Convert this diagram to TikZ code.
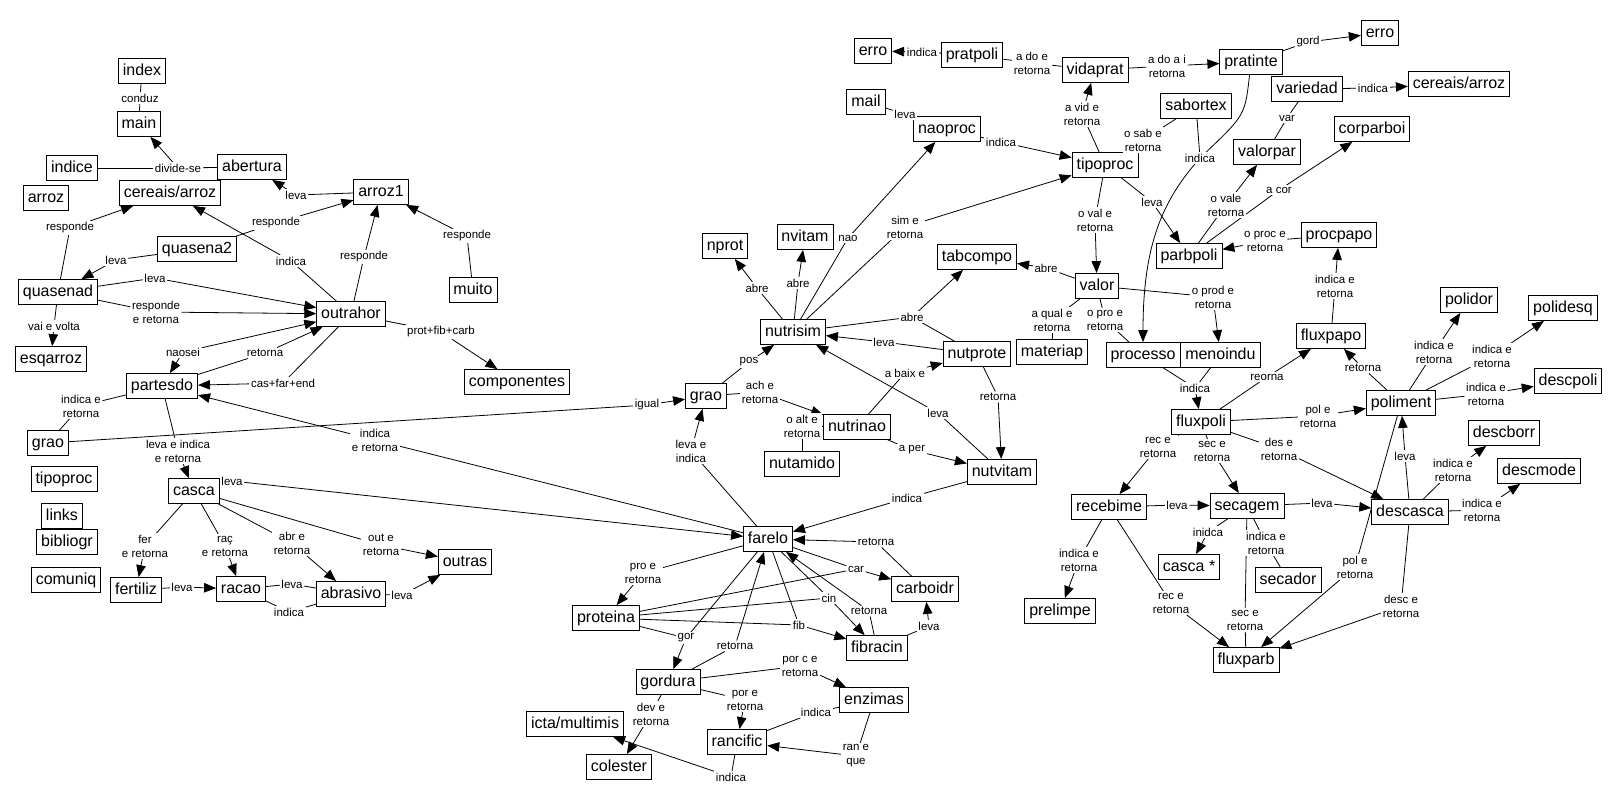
\documentclass[tikz,border=0pt]{standalone}
\usepackage{fontspec}
\setmainfont{Liberation Sans}
\usetikzlibrary{positioning,arrows.meta}
\pgfdeclarelayer{background}
\pgfsetlayers{background,main}

\begin{document}
\begin{tikzpicture}[x=1pt,y=-1pt,>={Triangle[length=12pt,width=9.5pt]},
		concept/.style={draw,fill=white,line width=0.8pt,inner xsep=4.5pt,inner ysep=3pt,
			minimum height=25pt,text height=11.5pt,text depth=3.5pt,
			font=\fontsize{16}{19}\selectfont},
		link/.style={fill=white,inner sep=1.5pt,align=center,
			font=\fontsize{11.5}{14}\selectfont},
		every edge/.append style={line width=0.8pt}]
	\useasboundingbox (0,0) rectangle (1617,807);

	% concepts, left
	\node[concept] (index) at (142,71) {index};
	\node[concept] (main) at (139,124) {main};
	\node[concept] (indice) at (72,168) {indice};
	\node[concept] (abertura) at (252,167) {abertura};
	\node[concept] (arroz) at (46,198) {arroz};
	\node[concept] (cereaisesq) at (170,193) {cereais/arroz};
	\node[concept] (arrozum) at (381,192) {arroz1};
	\node[concept] (quasenadois) at (197,249) {quasena2};
	\node[concept] (quasenad) at (58,292) {quasenad};
	\node[concept] (muito) at (473,290) {muito};
	\node[concept] (outrahor) at (351,314) {outrahor};
	\node[concept] (esqarroz) at (51,359) {esqarroz};
	\node[concept] (partesdo) at (162,386) {partesdo};
	\node[concept] (componentes) at (517,382) {componentes};
	\node[concept] (graoesq) at (48,443) {grao};
	\node[concept] (tipoprocesq) at (64,479) {tipoproc};
	\node[concept] (links) at (62,516) {links};
	\node[concept] (bibliogr) at (67,542) {bibliogr};
	\node[concept] (comuniq) at (66,580) {comuniq};
	\node[concept] (casca) at (194,491) {casca};
	\node[concept] (fertiliz) at (136,590) {fertiliz};
	\node[concept] (racao) at (241,589) {racao};
	\node[concept] (abrasivo) at (351,594) {abrasivo};
	\node[concept] (outras) at (465,562) {outras};

	% concepts, middle
	\node[concept] (graomeio) at (706,396) {grao};
	\node[concept] (nprot) at (725,246) {nprot};
	\node[concept] (nvitam) at (805,237) {nvitam};
	\node[concept] (nutrisim) at (793,332) {nutrisim};
	\node[concept] (tabcompo) at (977,257) {tabcompo};
	\node[concept] (nutprote) at (977,354) {nutprote};
	\node[concept] (materiap) at (1052,352) {materiap};
	\node[concept] (nutrinao) at (857,427) {nutrinao};
	\node[concept] (nutamido) at (802,464) {nutamido};
	\node[concept] (nutvitam) at (1002,472) {nutvitam};
	\node[concept] (farelo) at (768,539) {farelo};
	\node[concept] (carboidr) at (925,589) {carboidr};
	\node[concept] (proteina) at (606,618) {proteina};
	\node[concept] (fibracin) at (877,648) {fibracin};
	\node[concept] (gordura) at (668,682) {gordura};
	\node[concept] (enzimas) at (874,700) {enzimas};
	\node[concept] (icta) at (575,724) {icta/multimis};
	\node[concept] (rancific) at (737,742) {rancific};
	\node[concept] (colester) at (619,767) {colester};

	% concepts, right
	\node[concept] (erroesq) at (873,51) {erro};
	\node[concept] (pratpoli) at (972,55) {pratpoli};
	\node[concept] (vidaprat) at (1095,70) {vidaprat};
	\node[concept] (pratinte) at (1251,62) {pratinte};
	\node[concept] (errodir) at (1380,33) {erro};
	\node[concept] (mail) at (866,102) {mail};
	\node[concept] (naoproc) at (947,129) {naoproc};
	\node[concept] (tipoproc) at (1105,165) {tipoproc};
	\node[concept] (sabortex) at (1196,106) {sabortex};
	\node[concept] (variedad) at (1307,89) {variedad};
	\node[concept] (cereaisdir) at (1459,84) {cereais/arroz};
	\node[concept] (valorpar) at (1267,152) {valorpar};
	\node[concept] (corparboi) at (1372,129) {corparboi};
	\node[concept] (parbpoli) at (1189,256) {parbpoli};
	\node[concept] (procpapo) at (1339,235) {procpapo};
	\node[concept] (valor) at (1097,286) {valor};
	\node[concept] (processo) at (1143,355) {processo};
	\node[concept,right=0pt of processo] (menoindu) {menoindu};
	\node[concept] (fluxpapo) at (1331,336) {fluxpapo};
	\node[concept] (polidor) at (1469,300) {polidor};
	\node[concept] (polidesq) at (1563,308) {polidesq};
	\node[concept] (descpoli) at (1568,381) {descpoli};
	\node[concept] (poliment) at (1401,403) {poliment};
	\node[concept] (fluxpoli) at (1201,422) {fluxpoli};
	\node[concept] (descborr) at (1504,433) {descborr};
	\node[concept] (descmode) at (1539,471) {descmode};
	\node[concept] (recebime) at (1109,507) {recebime};
	\node[concept] (secagem) at (1247,506) {secagem};
	\node[concept] (descasca) at (1410,512) {descasca};
	\node[concept] (cascaast) at (1189,567) {casca *};
	\node[concept] (secador) at (1288,580) {secador};
	\node[concept] (prelimpe) at (1060,611) {prelimpe};
	\node[concept] (fluxparb) at (1246,660) {fluxparb};

	% linking phrases, left
	\node[link] (lconduz) at (140,98) {conduz};
	\node[link] (ldivide) at (178,168) {divide-se};
	\node[link] (llevaab) at (296,195) {leva};
	\node[link] (lrespcer) at (70,228) {responde};
	\node[link] (lrespqb) at (276,223) {responde};
	\node[link] (llevaqb) at (116,260) {leva};
	\node[link] (lindcer) at (291,261) {indica};
	\node[link] (lrespout) at (364,257) {responde};
	\node[link] (lrespmu) at (467,236) {responde};
	\node[link] (llevaout) at (155,278) {leva};
	\node[link] (lrespret) at (156,312) {responde\\e retorna};
	\node[link] (lvai) at (54,326) {vai e volta};
	\node[link] (lnaosei) at (183,352) {naosei};
	\node[link] (lretpar) at (265,353) {retorna};
	\node[link] (lcasfar) at (283,383) {cas+far+end};
	\node[link] (lprot) at (441,332) {prot+fib+carb};
	\node[link] (lindret) at (81,406) {indica e\\retorna};
	\node[link] (llevaind) at (178,451) {leva e indica\\e retorna};
	\node[link] (lindfar) at (375,440) {indica\\e retorna};
	\node[link] (ligual) at (647,405) {igual};
	\node[link] (llevacas) at (232,481) {leva};
	\node[link] (lfer) at (145,546) {fer\\e retorna};
	\node[link] (lrac) at (225,546) {raç\\e retorna};
	\node[link] (labr) at (292,543) {abr e\\retorna};
	\node[link] (lout) at (381,545) {out e\\retorna};
	\node[link] (llevafer) at (182,587) {leva};
	\node[link] (llevarac) at (292,584) {leva};
	\node[link] (lindrac) at (289,612) {indica};
	\node[link] (llevaabr) at (402,595) {leva};

	% linking phrases, middle
	\node[link] (lpos) at (749,362) {pos};
	\node[link] (lach) at (760,392) {ach e\\retorna};
	\node[link] (lalt) at (802,426) {o alt e\\retorna};
	\node[link] (labrenp) at (757,288) {abre};
	\node[link] (labrenv) at (798,283) {abre};
	\node[link] (lnao) at (848,238) {nao};
	\node[link] (lsim) at (905,227) {sim e\\retorna};
	\node[link] (labretab) at (912,317) {abre};
	\node[link] (llevanp) at (884,342) {leva};
	\node[link] (lbaix) at (905,373) {a baix e};
	\node[link] (llevanv) at (938,413) {leva};
	\node[link] (lretnv) at (998,397) {retorna};
	\node[link] (lper) at (912,450) {a per};
	\node[link] (lindnv) at (907,498) {indica};
	\node[link] (llevagrao) at (691,451) {leva e\\indica};
	\node[link] (lpro) at (643,573) {pro e\\retorna};
	\node[link] (lretcar) at (876,542) {retorna};
	\node[link] (lcar) at (856,569) {car};
	\node[link] (lcin) at (829,598) {cin};
	\node[link] (lretfib) at (869,611) {retorna};
	\node[link] (lfib) at (799,625) {fib};
	\node[link] (llevafib) at (929,626) {leva};
	\node[link] (lgor) at (686,638) {gor};
	\node[link] (lretgor) at (735,646) {retorna};
	\node[link] (lporc) at (800,666) {por c e\\retorna};
	\node[link] (lpor) at (745,700) {por e\\retorna};
	\node[link] (ldev) at (651,714) {dev e\\retorna};
	\node[link] (lindenz) at (816,712) {indica};
	\node[link] (lran) at (856,756) {ran e\\que};
	\node[link] (lindran) at (731,777) {indica};

	% linking phrases, right
	\node[link] (lindpp) at (922,52) {indica};
	\node[link] (lado) at (1032,63) {a do e\\retorna};
	\node[link] (ladoai) at (1167,66) {a do a i\\retorna};
	\node[link] (lgord) at (1308,42) {gord};
	\node[link] (lindvar) at (1373,88) {indica};
	\node[link] (lvar) at (1287,118) {var};
	\node[link] (llevamail) at (905,114) {leva};
	\node[link] (lindnao) at (1001,142) {indica};
	\node[link] (lvid) at (1082,114) {a vid e\\retorna};
	\node[link] (lsab) at (1143,140) {o sab e\\retorna};
	\node[link] (lindsab) at (1200,158) {indica};
	\node[link] (llevapb) at (1152,202) {leva};
	\node[link] (lval) at (1095,220) {o val e\\retorna};
	\node[link] (lvale) at (1226,205) {o vale\\retorna};
	\node[link] (lcor) at (1279,190) {a cor};
	\node[link] (lproc) at (1265,241) {o proc e\\retorna};
	\node[link] (lindpapo) at (1335,286) {indica e\\retorna};
	\node[link] (labreval) at (1046,268) {abre};
	\node[link] (lqual) at (1052,320) {a qual e\\retorna};
	\node[link] (lproval) at (1105,320) {o pro e\\retorna};
	\node[link] (lprod) at (1213,297) {o prod e\\retorna};
	\node[link] (lindproc) at (1195,388) {indica};
	\node[link] (lreorna) at (1267,377) {reorna};
	\node[link] (lretpol) at (1363,368) {retorna};
	\node[link] (lpolfx) at (1318,416) {pol e\\retorna};
	\node[link] (lpd) at (1434,352) {indica e\\retorna};
	\node[link] (lpq) at (1492,356) {indica e\\retorna};
	\node[link] (ldp) at (1486,394) {indica e\\retorna};
	\node[link] (lrec) at (1158,447) {rec e\\retorna};
	\node[link] (lsec) at (1212,451) {sec e\\retorna};
	\node[link] (ldes) at (1279,449) {des e\\retorna};
	\node[link] (llevadc) at (1405,456) {leva};
	\node[link] (ldb) at (1453,470) {indica e\\retorna};
	\node[link] (ldm) at (1482,510) {indica e\\retorna};
	\node[link] (llevarc) at (1177,505) {leva};
	\node[link] (llevasc) at (1322,503) {leva};
	\node[link] (linidca) at (1208,532) {inidca};
	\node[link] (lsecad) at (1266,543) {indica e\\retorna};
	\node[link] (lprel) at (1079,560) {indica e\\retorna};
	\node[link] (lrecfx) at (1171,603) {rec e\\retorna};
	\node[link] (lsecfx) at (1245,620) {sec e\\retorna};
	\node[link] (lpolfp) at (1355,567) {pol e\\retorna};
	\node[link] (ldesc) at (1401,606) {desc e\\retorna};

	\begin{pgfonlayer}{background}
		\fill[white] (0,0) rectangle (1617,807);
		\path
			(index) edge (lconduz) (lconduz) edge (main)
			(abertura) edge (ldivide) (ldivide) edge[->] (main) (ldivide) edge (indice)
			(arrozum) edge (llevaab) (llevaab) edge[->] (abertura)
			(quasenad) edge (lrespcer) (lrespcer) edge[->] (cereaisesq)
			(quasenadois) edge (lrespqb) (lrespqb) edge[->] (arrozum)
			(quasenadois) edge (llevaqb) (llevaqb) edge[->] (quasenad)
			(outrahor) edge (lindcer) (lindcer) edge[->] (cereaisesq)
			(outrahor) edge (lrespout) (lrespout) edge[->] (arrozum)
			(muito) edge (lrespmu) (lrespmu) edge[->] (arrozum)
			(quasenad) edge (llevaout) (llevaout) edge[->] (outrahor)
			(quasenad) edge (lrespret) (lrespret) edge[->] (outrahor)
			(quasenad) edge (lvai) (lvai) edge[->] (esqarroz)
			(lnaosei) edge[->] (partesdo) (lnaosei) edge[->] (outrahor)
			(partesdo) edge (lretpar) (lretpar) edge[->] (outrahor)
			(outrahor) edge (lcasfar) (lcasfar) edge[->] (partesdo)
			(outrahor) edge (lprot) (lprot) edge[->] (componentes)
			(partesdo) edge (lindret) (lindret) edge (graoesq)
			(partesdo) edge (llevaind) (llevaind) edge[->] (casca)
			(graoesq) edge (ligual) (ligual) edge[->] (graomeio)
			(farelo) edge (lindfar) (lindfar) edge[->] (partesdo)
			(casca) edge (llevacas) (llevacas) edge[->] (farelo)
			(casca) edge (lfer) (lfer) edge[->] (fertiliz)
			(casca) edge (lrac) (lrac) edge[->] (racao)
			(casca) edge (labr) (labr) edge[->] (abrasivo)
			(casca) edge (lout) (lout) edge[->] (outras)
			(fertiliz) edge (llevafer) (llevafer) edge[->] (racao)
			(racao) edge (llevarac) (llevarac) edge (abrasivo)
			(abrasivo) edge (lindrac) (lindrac) edge (racao)
			(abrasivo) edge (llevaabr) (llevaabr) edge[->] (outras)
		;
		\path
			(graomeio) edge (lpos) (lpos) edge[->] (nutrisim)
			(graomeio) edge (lach) (lach) edge[->] (nutrinao)
			(nutrinao) edge (lalt) (lalt) edge (nutamido)
			(nutrisim) edge (labrenp) (labrenp) edge[->] (nprot)
			(nutrisim) edge (labrenv) (labrenv) edge[->] (nvitam)
			(nutrisim) edge (lnao) (lnao) edge[->] (naoproc)
			(nutrisim) edge (lsim) (lsim) edge[->] (tipoproc)
			(nutrisim) edge (labretab) (nutprote) edge (labretab) (labretab) edge[->] (tabcompo)
			(nutprote) edge (llevanp) (llevanp) edge[->] (nutrisim)
			(nutrinao) edge (lbaix) (lbaix) edge[->] (nutprote)
			(nutvitam) edge (llevanv) (llevanv) edge[->] (nutrisim)
			(nutprote) edge (lretnv) (lretnv) edge[->] (nutvitam)
			(nutrinao) edge (lper) (lper) edge[->] (nutvitam)
			(nutvitam) edge (lindnv) (lindnv) edge[->] (farelo)
			(farelo) edge (llevagrao) (llevagrao) edge[->] (graomeio)
			(farelo) edge (lpro) (lpro) edge[->] (proteina)
			(carboidr) edge (lretcar) (lretcar) edge[->] (farelo)
			(farelo) edge (lcar) (proteina) edge (lcar) (lcar) edge[->] (carboidr)
			(farelo) edge (lcin) (proteina) edge (lcin) (lcin) edge[->] (fibracin)
			(fibracin) edge (lretfib) (lretfib) edge[->] (farelo)
			(farelo) edge (lfib) (proteina) edge (lfib) (lfib) edge[->] (fibracin)
			(fibracin) edge (llevafib) (llevafib) edge[->] (carboidr)
			(farelo) edge (lgor) (proteina) edge (lgor) (lgor) edge[->] (gordura)
			(gordura) edge (lretgor) (lretgor) edge[->] (farelo)
			(gordura) edge (lporc) (lporc) edge[->] (enzimas)
			(gordura) edge (lpor) (lpor) edge[->] (rancific)
			(gordura) edge (ldev) (ldev) edge[->] (colester)
			(enzimas) edge (lindenz) (lindenz) edge (rancific)
			(enzimas) edge (lran) (lran) edge[->] (rancific)
			(rancific) edge (lindran) (lindran) edge[->] (icta)
		;
		\path
			(pratpoli) edge (lindpp) (lindpp) edge[->] (erroesq)
			(pratpoli) edge (lado) (lado) edge (vidaprat)
			(vidaprat) edge (ladoai) (ladoai) edge[->] (pratinte)
			(pratinte) edge (lgord) (lgord) edge[->] (errodir)
			(variedad) edge (lindvar) (lindvar) edge[->] (cereaisdir)
			(valorpar) edge (lvar) (lvar) edge (variedad)
			(naoproc) edge (llevamail) (llevamail) edge (mail)
			(naoproc) edge (lindnao) (lindnao) edge[->] (tipoproc)
			(tipoproc) edge (lvid) (lvid) edge[->] (vidaprat)
			(tipoproc) edge (lsab) (lsab) edge (sabortex)
			(sabortex) edge (lindsab)
			(tipoproc) edge (llevapb) (llevapb) edge[->] (parbpoli)
			(tipoproc) edge (lval) (lval) edge[->] (valor)
			(parbpoli) edge (lvale) (lvale) edge[->] (valorpar)
			(parbpoli) edge (lcor) (lcor) edge[->] (corparboi)
			(procpapo) edge (lproc) (lproc) edge[->] (parbpoli)
			(fluxpapo) edge (lindpapo) (lindpapo) edge[->] (procpapo)
			(valor) edge (labreval) (labreval) edge[->] (tabcompo)
			(valor) edge (lqual) (lqual) edge (materiap)
			(valor) edge (lproval) (lproval) edge (processo)
			(valor) edge (lprod) (lprod) edge[->] (menoindu)
			(processo) edge (lindproc) (menoindu) edge (lindproc) (lindproc) edge[->] (fluxpoli)
			(fluxpoli) edge (lreorna) (lreorna) edge[->] (fluxpapo)
			(poliment) edge (lretpol) (lretpol) edge[->] (fluxpapo)
			(fluxpoli) edge (lpolfx) (lpolfx) edge[->] (poliment)
			(poliment) edge (lpd) (lpd) edge[->] (polidor)
			(poliment) edge (lpq) (lpq) edge[->] (polidesq)
			(poliment) edge (ldp) (ldp) edge[->] (descpoli)
			(fluxpoli) edge (lrec) (lrec) edge[->] (recebime)
			(fluxpoli) edge (lsec) (lsec) edge[->] (secagem)
			(fluxpoli) edge (ldes) (ldes) edge[->] (descasca)
			(descasca) edge (llevadc) (llevadc) edge[->] (poliment)
			(descasca) edge (ldb) (ldb) edge[->] (descborr)
			(descasca) edge (ldm) (ldm) edge[->] (descmode)
			(recebime) edge (llevarc) (llevarc) edge[->] (secagem)
			(secagem) edge (llevasc) (llevasc) edge[->] (descasca)
			(secagem) edge (linidca) (linidca) edge[->] (cascaast)
			(secagem) edge (lsecad) (lsecad) edge (secador)
			(recebime) edge (lprel) (lprel) edge[->] (prelimpe)
			(recebime) edge (lrecfx) (lrecfx) edge[->] (fluxparb)
			(secagem) edge (lsecfx) (lsecfx) edge (fluxparb)
			(poliment) edge (lpolfp) (lpolfp) edge[->] (fluxparb)
			(descasca) edge (ldesc) (ldesc) edge[->] (fluxparb)
		;
		\draw[line width=0.8pt] (pratinte) .. controls (1245,115) .. (lindsab);
		\draw[->,line width=0.8pt] (lindsab) .. controls (1160,205) and (1143,250) .. (processo);
	\end{pgfonlayer}
\end{tikzpicture}
\end{document}
